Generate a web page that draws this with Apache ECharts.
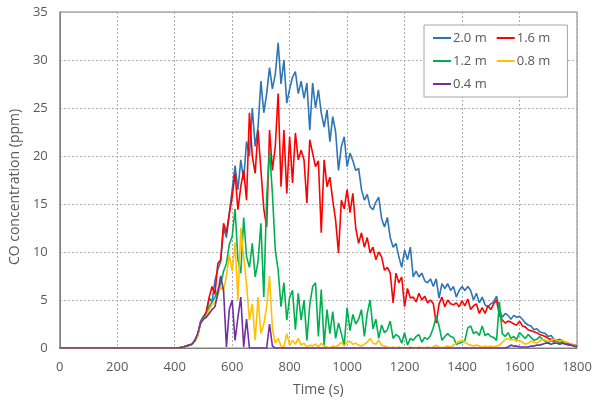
<!DOCTYPE html>
<html>
<head>
<meta charset="utf-8">
<script src="https://cdn.jsdelivr.net/npm/echarts@6/dist/echarts.min.js"></script>
<style>html,body{margin:0;padding:0;background:#fff;}#c{width:600px;height:408px;}</style>
</head>
<body>
<div id="c"></div>
<script>
const times = [0,
 400,410,420,430,440,450,460,470,480,490,
 500,510,520,530,540,550,560,570,580,590,
 600,610,620,630,640,650,660,670,680,690,
 700,710,720,730,740,750,760,770,780,790,
 800,810,820,830,840,850,860,870,880,890,
 900,910,920,930,940,950,960,970,980,990,
 1000,1010,1020,1030,1040,1050,1060,1070,1080,1090,
 1100,1110,1120,1130,1140,1150,1160,1170,1180,1190,
 1200,1210,1220,1230,1240,1250,1260,1270,1280,1290,
 1300,1310,1320,1330,1340,1350,1360,1370,1380,1390,
 1400,1410,1420,1430,1440,1450,1460,1470,1480,1490,
 1500,1510,1520,1530,1540,1550,1560,1570,1580,1590,
 1600,1610,1620,1630,1640,1650,1660,1670,1680,1690,
 1700,1710,1720,1730,1740,1750,1760,1770,1780,1790,
 1800];

const h20 = [0,
 0,0,0.05,0.1,0.2,0.3,0.4,0.7,1.3,2.8,
 3.3,3.6,5.2,4.8,7.0,8.2,9.0,12.5,11.5,14.0,
 16.5,19.0,16.5,19.6,17.5,21.5,20.0,25.0,21.0,23.0,
 27.8,24.5,26.5,29.2,27.0,28.5,31.8,27.5,30.0,25.5,
 27.0,28.2,28.8,26.5,27.8,26.0,27.6,22.7,27.6,25.0,
 26.9,24.5,23.0,24.8,21.5,24.1,22.5,18.5,21.0,22.0,
 18.9,20.3,19.5,18.5,18.7,16.5,15.4,16.0,14.7,14.4,
 15.2,15.7,13.5,12.6,13.6,11.5,10.5,10.9,9.5,8.4,
 10.2,9.2,10.5,7.4,8.0,7.4,7.8,7.0,6.8,7.2,
 6.4,7.2,5.2,6.7,6.2,6.7,6.0,6.4,5.3,6.0,
 6.4,6.0,6.4,6.0,5.0,5.7,4.7,5.3,4.5,4.3,
 4.6,4.8,5.4,4.0,3.2,3.6,3.4,3.0,3.4,3.2,
 3.3,3.0,2.6,2.4,2.3,1.9,2.0,1.7,1.6,1.5,
 1.2,1.3,0.9,0.8,0.9,0.7,0.6,0.5,0.4,0.3,
 0.2];

const h16 = [0,
 0,0,0.05,0.1,0.2,0.3,0.4,0.8,1.4,2.7,
 3.2,3.8,5.3,6.4,5.6,8.8,9.2,13.0,12.0,14.0,
 15.7,18.2,14.4,16.8,18.5,15.4,24.5,20.0,18.2,22.7,
 18.5,14.5,12.6,22.7,18.5,21.0,26.5,16.8,22.7,16.1,
 22.0,17.2,22.4,19.6,20.6,19.6,15.1,21.7,20.3,18.9,
 19.5,12.0,19.6,16.8,17.8,15.4,13.3,9.9,15.4,14.5,
 16.5,14.1,16.1,12.5,10.9,12.0,10.5,11.5,9.9,10.5,
 9.2,10.0,9.5,8.1,8.4,7.8,4.7,7.8,6.8,7.4,
 4.3,6.2,5.2,5.3,4.8,5.7,5.0,5.4,4.7,5.0,
 4.6,2.6,4.6,5.3,4.3,5.0,4.6,4.5,4.7,4.3,
 4.9,4.4,5.1,4.0,4.4,4.6,3.6,4.2,3.6,4.4,
 4.0,4.6,5.0,3.4,2.9,2.6,2.8,2.7,2.5,2.4,
 2.8,2.3,2.2,1.9,1.8,1.7,1.6,1.4,1.3,1.2,
 1.0,0.9,0.8,0.8,0.7,0.7,0.6,0.4,0.3,0.3,
 0.2];

const h12 = [0,
 0,0,0.05,0.1,0.2,0.3,0.4,0.7,1.3,2.6,
 3.1,3.4,4.3,4.8,5.3,6.0,6.7,8.0,8.8,10.8,
 11.6,14.5,9.2,7.8,13.6,9.5,8.4,10.9,7.4,9.0,
 13.0,5.3,15.7,20.6,16.1,10.2,8.1,4.3,6.8,2.9,
 5.3,6.0,1.9,5.7,2.9,5.0,0.8,4.5,6.4,6.8,
 1.2,6.1,0.3,4.0,1.5,3.8,1.0,2.6,1.5,0.3,
 4.2,1.8,3.5,2.5,3.0,4.0,1.2,3.6,5.0,2.0,
 3.0,1.0,2.4,1.6,1.9,2.8,1.0,1.4,1.2,0.5,
 1.6,0.3,1.0,0.8,1.2,1.4,0.6,1.1,0.9,1.3,
 2.1,3.3,2.3,0.8,1.2,1.5,1.2,1.1,0.4,0.5,
 0.6,0.8,2.1,2.3,1.5,1.7,1.3,2.3,1.3,1.5,
 1.2,1.1,0.8,4.8,1.5,1.2,1.6,1.0,1.2,0.9,
 1.6,1.3,1.0,1.4,1.1,0.8,0.9,1.2,0.9,0.7,
 0.5,0.8,0.6,0.7,0.5,0.6,0.4,0.3,0.3,0.2,
 0.1];

const h08 = [0,
 0,0,0.05,0.1,0.2,0.3,0.4,0.7,1.2,2.6,
 3.0,3.3,4.0,4.5,4.8,5.5,6.4,6.0,7.5,9.7,
 8.0,11.0,5.0,12.5,9.5,6.6,2.9,4.6,0.8,5.3,
 1.5,2.5,4.3,7.5,2.0,0.5,1.0,0.2,0.1,1.5,
 0.3,0.8,0.4,1.0,0.3,0.5,0.1,0.3,0.2,0.4,
 0.1,0.5,0.2,0.1,0.0,0.2,0.1,0.3,0.6,0.2,
 0.6,0.7,0.4,0.5,0.3,0.2,0.4,0.6,1.0,0.5,
 0.4,0.8,0.3,0.2,0.1,0.0,0.1,0.0,0.1,0.0,
 0.0,0.0,0.1,0.0,0.0,0.1,0.0,0.0,0.1,0.0,
 0.1,0.3,0.1,0.0,0.1,0.2,0.1,0.3,0.5,0.7,
 0.8,0.6,0.4,0.3,0.2,0.3,0.2,0.1,0.2,0.1,
 0.2,0.1,0.2,0.3,0.6,0.9,1.0,0.8,0.9,0.7,
 0.8,0.6,0.4,0.5,0.7,0.6,0.5,0.7,0.9,0.8,
 0.7,0.8,0.9,0.8,0.7,0.8,0.6,0.5,0.4,0.3,
 0.1];

const h04 = [0,
 0,0,0.05,0.1,0.2,0.3,0.4,0.8,1.5,2.6,
 3.0,3.2,3.6,4.0,4.3,5.7,7.5,6.0,0.1,4.0,
 5.0,0.8,3.2,5.3,0.1,3.0,0,0,0,0,
 0,0,0,2.5,0.2,0,0,0,0,0,
 0,0,0,0,0,0,0,0,0,0,
 0,0,0,0,0,0,0,0,0,0,
 0,0,0,0,0,0,0,0,0,0,
 0,0,0,0,0,0,0,0,0,0,
 0,0,0,0,0,0,0,0,0,0,
 0,0,0,0,0,0,0,0,0,0,
 0,0,0,0,0,0,0,0,0,0,
 0,0,0,0,0,0,0.1,0.3,0.2,0.2,
 0.1,0.1,0.1,0.1,0.2,0.2,0.3,0.3,0.4,0.5,
 0.5,0.4,0.5,0.5,0.4,0.5,0.4,0.4,0.3,0.2,
 0.1];

const seriesNames = ['2.0 m','1.6 m','1.2 m','0.8 m','0.4 m'];
const seriesColors = ['#2E75B6','#FF0000','#00B050','#FFC000','#7030A0'];
const seriesValues = [h20,h16,h12,h08,h04];
const xTicks = {min:0, max:1800, interval:200};
const yTicks = {min:0, max:35, interval:5};

const FONT = 'Open Sans';
const chart = echarts.init(document.getElementById('c'), null, {renderer:'canvas'});
const grid = {left:57, right:23, top:12, bottom:60, show:true, borderColor:'#7F7F7F', borderWidth:1, backgroundColor:'transparent'};
const splitLine = {show:true, lineStyle:{color:'#ABABAB', type:[2,2], width:1}};
chart.setOption({
  animation:false,
  backgroundColor:'#fff',
  textStyle:{fontFamily:FONT},
  grid: grid,
  legend:{
    left:424, top:25, width:130,
    orient:'horizontal',
    padding:[4,12,4,9],
    icon:'rect',
    itemGap:5, itemWidth:18, itemHeight:2,
    backgroundColor:'#fff', borderColor:'#A6A6A6', borderWidth:1,
    textStyle:{fontFamily:FONT, fontSize:13, color:'#595959', padding:[0,5,0,-3], lineHeight:18},
    data: seriesNames
  },
  xAxis:{
    type:'value', min:xTicks.min, max:xTicks.max, interval:xTicks.interval,
    name:'Time (s)', nameLocation:'middle', nameGap:35,
    nameTextStyle:{fontFamily:FONT, fontSize:14, color:'#595959'},
    axisLine:{show:true, lineStyle:{color:'#7F7F7F'}},
    axisTick:{show:false},
    axisLabel:{fontFamily:FONT, fontSize:13, color:'#595959', margin:13, formatter:v=>String(v)},
    splitLine: splitLine
  },
  yAxis:{
    type:'value', min:yTicks.min, max:yTicks.max, interval:yTicks.interval,
    name:'CO concentration (ppm)', nameLocation:'middle', nameGap:34,
    nameTextStyle:{fontFamily:FONT, fontSize:14, color:'#595959', padding:[0,0,0,-14]},
    axisLine:{show:true, lineStyle:{color:'#7F7F7F'}},
    axisTick:{show:false},
    axisLabel:{fontFamily:FONT, fontSize:13, color:'#595959', margin:12, formatter:v=>String(v)},
    splitLine: splitLine
  },
  series: seriesNames.map((n,k)=>({
    name:n, type:'line', symbol:'none', smooth:false,
    color: seriesColors[k],
    lineStyle:{width:1.6, color:seriesColors[k]},
    data: times.map((t,i)=>[t, seriesValues[k][i]])
  }))
});
</script>
</body>
</html>
